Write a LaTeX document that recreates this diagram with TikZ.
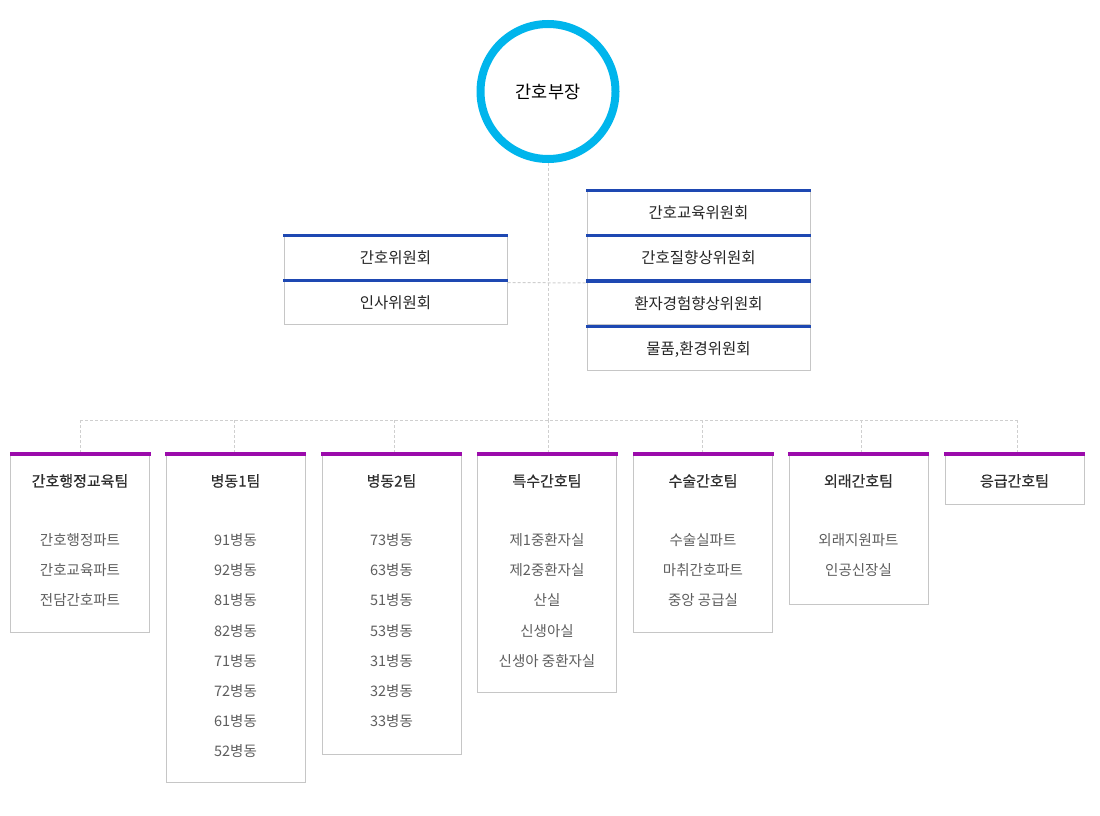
\documentclass[tikz,border=0pt]{standalone}
\usepackage{fontspec}
\setmainfont{Noto Sans CJK KR}
\newfontfamily\titlefont[FakeBold=0.5]{Noto Sans CJK KR}
\definecolor{circlecol}{HTML}{00B5EC}
\definecolor{bluebar}{HTML}{1E48B2}
\definecolor{purplebar}{HTML}{9B0BAB}
\definecolor{boxline}{HTML}{C6C6C6}
\definecolor{dashcol}{HTML}{CFCFCF}
\definecolor{titletext}{HTML}{2E2E2E}
\definecolor{itemtext}{HTML}{5E5E5E}
\tikzset{
  headnode/.style={circle, draw=circlecol, line width=8pt, minimum size=135pt, inner sep=0pt,
    font=\fontsize{17.5}{17.5}\selectfont, text=black},
  combox/.style={draw=boxline, line width=1pt, fill=white, minimum width=223pt, minimum height=45pt,
    inner sep=0pt},
  comtext/.style={font=\fontsize{15.5}{15.5}\selectfont, text=black!85, inner sep=0pt},
  teambox/.style={draw=boxline, line width=1pt, fill=white, minimum width=139pt, inner sep=0pt},
  teamtitle/.style={font=\titlefont\fontsize{15}{15}\selectfont, text=titletext, inner sep=0pt},
  teamitem/.style={font=\fontsize{14.5}{14.5}\selectfont, text=itemtext, inner sep=0pt},
  dashline/.style={draw=dashcol, line width=1pt, dash pattern=on 3pt off 2pt},
}
\newcommand{\bluetop}[1]{\fill[bluebar] ([xshift=-0.5pt]#1.north west) rectangle ([xshift=0.5pt,yshift=-3.5pt]#1.north east);}
\newcommand{\purpletop}[1]{\fill[purplebar] ([xshift=-0.5pt]#1.north west) rectangle ([xshift=0.5pt,yshift=-4pt]#1.north east);}
\begin{document}
\begin{tikzpicture}[x=1pt,y=-1pt]
\useasboundingbox (0,0) rectangle (1100,816);

% head
\node[headnode] (head) at (548,91.5) {간호부장};

% committees left
\node[combox] (l1) at (395.5,256.5) {};
\node[combox] (l2) at (395.5,301.5) {};
% committees right
\node[combox] (c1) at (698.5,211.5) {};
\node[combox] (c2) at (698.5,256.5) {};
\node[combox] (c3) at (698.5,302) {};
\node[combox] (c4) at (698.5,347.5) {};
\foreach \n in {l1,l2,c1,c2,c3,c4} {\bluetop{\n}}
\node[comtext] (l1t) at ([yshift=-1.5pt]l1.center) {간호위원회};
\node[comtext] (l2t) at ([yshift=-1.5pt]l2.center) {인사위원회};
\node[comtext] (c1t) at ([yshift=-1.5pt]c1.center) {간호교육위원회};
\node[comtext] (c2t) at ([yshift=-1.5pt]c2.center) {간호질향상위원회};
\node[comtext] (c3t) at ([yshift=-1.5pt]c3.center) {환자경험향상위원회};
\node[comtext] (c4t) at ([yshift=-2.5pt]c4.center) {물품,환경위원회};

% team boxes
\node[teambox, minimum height=180pt] (t1) at (80,542) {};
\node[teambox, minimum height=330pt] (t2) at (235.5,617) {};
\node[teambox, minimum height=302pt] (t3) at (391.5,603) {};
\node[teambox, minimum height=240pt] (t4) at (547,572) {};
\node[teambox, minimum height=180pt] (t5) at (703,542) {};
\node[teambox, minimum height=152pt] (t6) at (858.5,528) {};
\node[teambox, minimum height=52pt] (t7) at (1014.5,478) {};
\foreach \n in {t1,t2,t3,t4,t5,t6,t7} {\purpletop{\n}}

% connectors
\coordinate (bus) at (548,420);
\draw[dashline] (head.south) -- (bus);
\draw[dashline] ([yshift=-4pt]l2.north east) -- ([yshift=-4pt]c3.north west);
\draw[dashline] (t1.north |- bus) -- ([xshift=2.5pt]t7.north |- bus);
\draw[dashline] (t1.north |- bus) -- (t1.north);
\draw[dashline] ([xshift=-1.5pt]t2.north |- bus) -- ([xshift=-1.5pt]t2.north);
\draw[dashline] ([xshift=2.5pt]t3.north |- bus) -- ([xshift=2.5pt]t3.north);
\draw[dashline] ([xshift=1pt]t4.north |- bus) -- ([xshift=1pt]t4.north);
\draw[dashline] ([xshift=-1pt]t5.north |- bus) -- ([xshift=-1pt]t5.north);
\draw[dashline] ([xshift=2.5pt]t6.north |- bus) -- ([xshift=2.5pt]t6.north);
\draw[dashline] ([xshift=2.5pt]t7.north |- bus) -- ([xshift=2.5pt]t7.north);

% titles
\node[teamtitle] (t1h) at (t1.north |- 0,481) {간호행정교육팀};
\node[teamtitle] (t2h) at (t2.north |- 0,481) {병동1팀};
\node[teamtitle] (t3h) at (t3.north |- 0,481) {병동2팀};
\node[teamtitle] (t4h) at (t4.north |- 0,481) {특수간호팀};
\node[teamtitle] (t5h) at (t5.north |- 0,481) {수술간호팀};
\node[teamtitle] (t6h) at (t6.north |- 0,481) {외래간호팀};
\node[teamtitle] (t7h) at (t7.north |- 0,481) {응급간호팀};

% items
\foreach \txt [count=\i from 0] in {간호행정파트,간호교육파트,전담간호파트}
  \node[teamitem] (t1i\i) at (t1.north |- 0,{540+30.2*\i}) {\txt};
\foreach \txt [count=\i from 0] in {91병동,92병동,81병동,82병동,71병동,72병동,61병동,52병동}
  \node[teamitem] (t2i\i) at (t2.north |- 0,{540+30.2*\i}) {\txt};
\foreach \txt [count=\i from 0] in {73병동,63병동,51병동,53병동,31병동,32병동,33병동}
  \node[teamitem] (t3i\i) at (t3.north |- 0,{540+30.2*\i}) {\txt};
\foreach \txt [count=\i from 0] in {제1중환자실,제2중환자실,산실,신생아실,신생아 중환자실}
  \node[teamitem] (t4i\i) at (t4.north |- 0,{540+30.2*\i}) {\txt};
\foreach \txt [count=\i from 0] in {수술실파트,마취간호파트,중앙 공급실}
  \node[teamitem] (t5i\i) at (t5.north |- 0,{540+30.2*\i}) {\txt};
\foreach \txt [count=\i from 0] in {외래지원파트,인공신장실}
  \node[teamitem] (t6i\i) at (t6.north |- 0,{540+30.2*\i}) {\txt};
\end{tikzpicture}
\end{document}
